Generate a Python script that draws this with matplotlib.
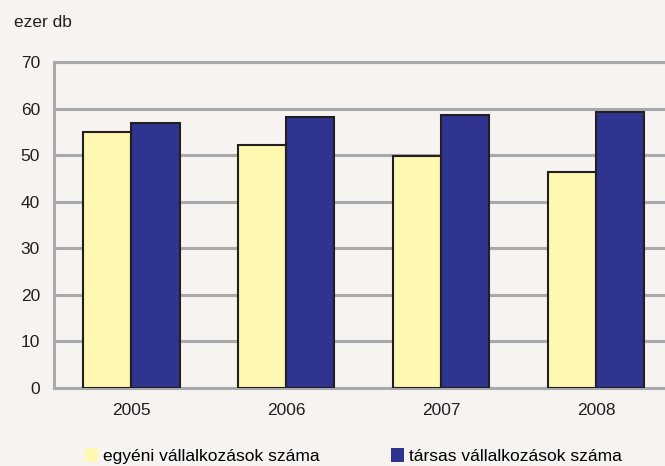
import matplotlib.pyplot as plt
import matplotlib.patches as mpatches
import numpy as np

plt.rcParams['font.family'] = ['Liberation Sans', 'DejaVu Sans']

years = ['2005', '2006', '2007', '2008']
egyeni = [55.0, 52.2, 49.8, 46.4]
tarsas = [56.9, 58.2, 58.6, 59.3]
labels = ['egyéni vállalkozások száma', 'társas vállalkozások száma']

bg = '#f6f3f0'
yellow = '#fff8b0'
blue = '#2e348f'
edge = '#231f20'
grid = '#a7a9ac'

fig = plt.figure(figsize=(6.65, 4.66), dpi=100, facecolor=bg)
ax = fig.add_axes([0.0812, 0.1674, 0.932, 0.6996], facecolor=bg)

x = np.arange(len(years))
w = 0.31
ax.bar(x - w / 2, egyeni, w, color=yellow, edgecolor=edge, linewidth=1.5, zorder=3)
ax.bar(x + w / 2, tarsas, w, color=blue, edgecolor=edge, linewidth=1.5, zorder=3)

ax.set_xlim(-0.5, 3.5)
ax.set_ylim(0, 70)
ax.set_yticks(range(0, 71, 10))
ax.set_xticks(x)
ax.set_xticklabels(years)
ax.yaxis.grid(True, color=grid, linewidth=2.2, zorder=0)
ax.set_axisbelow(True)

for s in ['left', 'bottom', 'top']:
    ax.spines[s].set_color(grid)
    ax.spines[s].set_linewidth(2.2)
ax.spines['right'].set_visible(False)
ax.tick_params(length=0, labelsize=12.5, colors='#231f20')
ax.tick_params(axis='y', pad=10)
ax.tick_params(axis='x', pad=11)

fig.text(0.021, 0.951, 'ezer db', fontsize=12.5, color='#231f20', va='center')

handles = [mpatches.Patch(facecolor=yellow, edgecolor='none'),
           mpatches.Patch(facecolor=blue, edgecolor='none')]
fig.legend(handles, labels, loc='center left', bbox_to_anchor=(0.128, 0.022),
           ncol=2, frameon=False, fontsize=12.5, handlelength=0.75, handleheight=0.9,
           handletextpad=0.3, columnspacing=4.1, borderaxespad=0, borderpad=0)

fig.savefig('out.png', dpi=100, facecolor=bg)
